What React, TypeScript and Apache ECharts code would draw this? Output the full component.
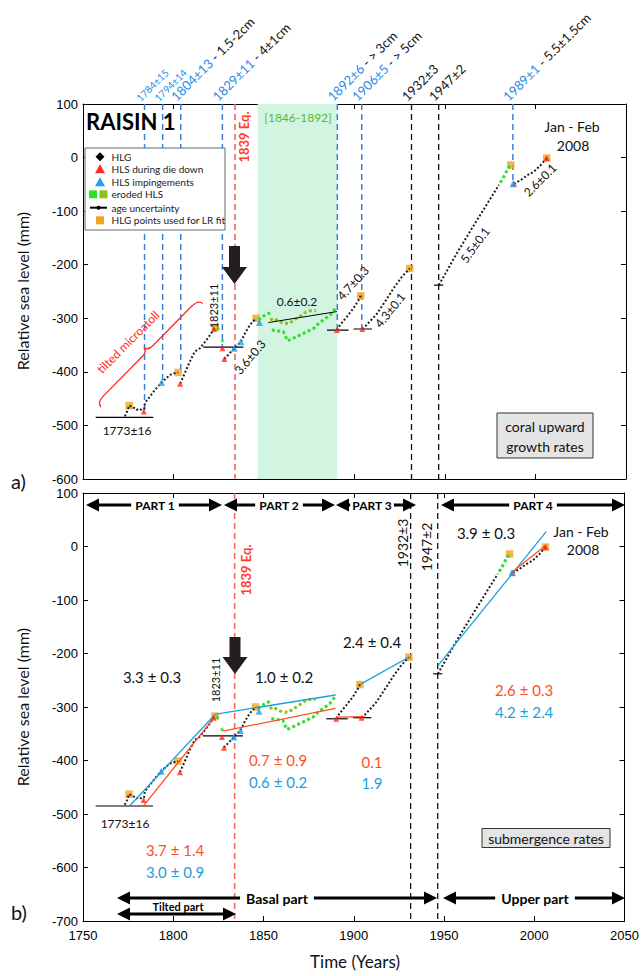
import React, { useEffect, useRef } from "react";
import * as echarts from "echarts";

// ---------- axes ----------
const yearRange = [1750, 2050];
const yearStep = 50;
const topRange = [-600, 100];
const botRange = [-700, 100];
const mmStep = 100;

// ---------- HLG data (black dotted) ----------
const segA = [[1773.1, -483], [1774.4, -474], [1775.5, -463], [1777.7, -466], [1779.5, -471], [1781.4, -469], [1783.6, -474]];
const segB = [[1783.8, -470], [1784.2, -458], [1787, -446], [1789.7, -434], [1793.4, -420], [1796.2, -411], [1799, -404], [1802.6, -401]];
const segC = [[1803.7, -422], [1806.3, -402], [1809, -381], [1811.8, -362], [1814.6, -356], [1817.4, -344], [1820.2, -331], [1822.4, -320], [1823.1, -317]];
const segD = [[1828.1, -376], [1830.3, -368], [1833.6, -356], [1837.2, -344], [1839.5, -328], [1842.3, -312], [1845.6, -300]];
const segE = [[1890.3, -322], [1892.1, -312], [1895.8, -297], [1899.5, -281], [1902.3, -266], [1903.4, -258]];
const segF = [[1904.3, -320], [1906.9, -312], [1912.5, -291], [1918, -263], [1921.6, -244], [1926.3, -222], [1930.5, -207]];
const segG = [[1946.6, -238], [1949.3, -222], [1954.9, -188], [1960.4, -157], [1966, -126], [1970.6, -101], [1975.2, -76], [1979.8, -51]];
const segH = [[1988.1, -49], [1991.8, -42], [1995.5, -33], [1999.2, -26], [2002.9, -14], [2006.2, -1]];
const hlgSegments = [segA, segB, segC, segD, segE, segF, segG, segH];

// ---------- eroded HLS ----------
const greenC = [[1823.8, -318], [1825.5, -322]];
const greenUpper = [[1846.9, -303], [1848.8, -298], [1851.5, -292], [1854.3, -289]];
const greenLower = [[1854.3, -322], [1857.1, -323], [1860.7, -325], [1863, -342], [1866.3, -337], [1870, -331], [1873.7, -325], [1877.4, -319], [1880.1, -310], [1882.9, -303], [1886.6, -294], [1890.3, -278]];
const greenG = [[1980.5, -47], [1983, -33], [1984.4, -23], [1986.3, -14]];
const greenSegments = [greenC, greenUpper, greenLower, greenG];
const greenDots = [[1827, -342]];
const oliveSegment = [[1853.4, -303], [1855.6, -300], [1858, -306], [1860.7, -309], [1863.5, -310], [1866.3, -304], [1870, -296], [1872.8, -289], [1875.5, -286], [1878.8, -286]];

// ---------- markers ----------
const orangePts = [[1775.5, -463], [1802.6, -401], [1823.1, -317], [1845.6, -300], [1903.4, -258], [1930.5, -207], [1986.3, -14], [2006.2, -1]];
const redTri = [[1783.6, -474], [1803.7, -422], [1822.4, -320], [1827, -356], [1828.1, -376], [1890.3, -322], [1904.3, -320], [1988.1, -49], [2006.2, -1]];
const blueTri = [[1793.4, -420], [1833.6, -356], [1837.2, -344], [1847.5, -308], [1987.6, -49]];

// age uncertainty bars: [from, to, level]
const ageBars = [[1757, 1788.8, -485], [1816.4, 1838.6, -354], [1884.8, 1896.7, -322], [1899.5, 1909.7, -320], [1944, 1949, -238]];

// ---------- events ----------
const blueEvents = [[1784, -474], [1794, -420], [1804, -402], [1827, -356], [1890.5, -322], [1904, -320], [1987.5, -49]];
const quakeYear = 1834;
const blackEvents = [1931.5, 1946.5];
const bandYears = [1846.5, 1890.5];

// ---------- fits ----------
const growthFit = [[1852.4, -308], [1890.3, -287.5]];
const blueFits = [
  [[1775.9, -484.5], [1822.9, -315]],
  [[1822.9, -313.6], [1889.9, -277.6]],
  [[1903.6, -257.6], [1930.9, -206]],
  [[1946.6, -222.8], [2006.6, 27.7]],
];
const redFits = [
  [[1783.6, -484.5], [1822.9, -319]],
  [[1827.5, -345], [1889.9, -302.5]],
  [[1890.3, -319], [1906, -318]],
  [[1987.2, -49], [2006.6, 2.8]],
];

// ---------- labels ----------
const topLabels: [number, string, string, number][] = [
  [1784, "1784±15", "", 10],
  [1794, "1794±14", "", 10],
  [1804, "1804±13", " - 1.5-2cm", 13],
  [1827, "1829±11", " - 4±1cm", 13],
  [1890.5, "1892±6", " - > 3cm", 13],
  [1904, "1906±5", " - > 5cm", 13],
  [1931.5, "", "1932±3", 13],
  [1946.5, "", "1947±2", 13],
  [1987.5, "1989±1", " - 5.5±1.5cm", 13],
];

const FT = "Lato, 'Open Sans', sans-serif";
const FA = "'Liberation Sans', Arial, sans-serif";
const BLK = "#231f20";
const RED = "#ff2b1c";
const BLUE = "#1e9ff2";
const GREEN = "#2fe02a";
const OLIVE = "#8cc21f";
const ORANGE = "#f6a21d";
const RATE_RED = "#ff4e1f";
const RATE_BLUE = "#1aa0dc";
const LBL_BLUE = "#2a8be8";

function axisX(grid: number, pos: string, labels: boolean) {
  return {
    type: "value", gridIndex: grid, position: pos,
    min: yearRange[0], max: yearRange[1], interval: yearStep,
    axisLine: { show: true, onZero: false, lineStyle: { color: "#000", width: 1 } },
    axisTick: { show: true, inside: true, length: 5, lineStyle: { color: "#000" } },
    splitLine: { show: false },
    axisLabel: { show: labels, fontSize: 13, color: "#000", fontFamily: FA, margin: 8, formatter: (v: number) => String(v) },
  };
}
function axisY(grid: number, pos: string, labels: boolean, range: number[]) {
  return {
    type: "value", gridIndex: grid, position: pos,
    min: range[0], max: range[1], interval: mmStep,
    axisLine: { show: true, onZero: false, lineStyle: { color: "#000", width: 1 } },
    axisTick: { show: true, inside: true, length: 5, lineStyle: { color: "#000" } },
    splitLine: { show: false },
    axisLabel: { show: labels, fontSize: 13, color: "#000", fontFamily: FA, margin: 5, formatter: (v: number) => String(v) },
  };
}

function panelSeries(p: number) {
  const idx = p * 2;
  const yr = p === 0 ? topRange : botRange;
  const base = { xAxisIndex: idx, yAxisIndex: idx, silent: true };
  const line = (data: number[][], color: string, width: number, type: any, z: number) => ({
    ...base, type: "line", data, symbol: "none", showSymbol: false, z,
    lineStyle: { color, width, type, cap: "butt" },
  });
  const s: any[] = [];
  if (p === 0) {
    s.push({
      ...base, type: "line", data: [[bandYears[0], yr[0]]], symbol: "none", lineStyle: { opacity: 0 }, z: 0,
      markArea: { silent: true, itemStyle: { color: "#d2f5e2" }, data: [[{ xAxis: bandYears[0] }, { xAxis: bandYears[1] }]] },
    });
    blueEvents.forEach(([x, yb]) => s.push(line([[x, yr[1]], [x, yb]], "#3b80d8", 1.5, [6, 4], 1)));
  }
  s.push(line([[quakeYear, yr[1]], [quakeYear, yr[0]]], "#f4675a", 1.6, [6, 4], 1));
  blackEvents.forEach((x) => s.push(line([[x, yr[1]], [x, yr[0]]], "#111", 1.3, [6, 4], 1)));
  ageBars.forEach(([a, b, y]) => s.push(line([[a, y], [b, y]], "#000", 1.2, "solid", 2)));
  s.push({ ...base, type: "scatter", data: orangePts, symbol: "rect", symbolSize: 7.5, itemStyle: { color: ORANGE }, z: 2 });
  hlgSegments.forEach((seg) => s.push(line(seg, BLK, 2, [2, 2], 3)));
  greenSegments.forEach((seg) => s.push(line(seg, GREEN, 3, [3, 2.5], 3)));
  s.push(line(oliveSegment, OLIVE, 3, [3, 2.5], 3));
  s.push({ ...base, type: "scatter", data: greenDots, symbol: "circle", symbolSize: 3.5, itemStyle: { color: GREEN }, z: 3 });
  if (p === 0) s.push(line(growthFit, "#000", 1, "solid", 4));
  if (p === 1) {
    blueFits.forEach((f) => s.push(line(f, RATE_BLUE, 1.3, "solid", 4)));
    redFits.forEach((f) => s.push(line(f, RATE_RED, 1.3, "solid", 4)));
  }
  s.push({ ...base, type: "scatter", data: redTri, symbol: "triangle", symbolSize: 6, itemStyle: { color: RED }, z: 5 });
  s.push({ ...base, type: "scatter", data: blueTri, symbol: "triangle", symbolSize: 7, itemStyle: { color: BLUE }, z: 5 });
  return s;
}

function txt(x: number, y: number, text: string, o: any = {}) {
  const font = `${o.weight || "normal"} ${o.size || 12}px ${o.family || FT}`;
  return {
    type: "text", x, y, rotation: o.rot || 0, z: 100,
    style: {
      text, fill: o.color || "#111", font,
      align: o.align || "center", textAlign: o.align || "center",
      verticalAlign: o.va || "middle", textVerticalAlign: o.va || "middle",
      lineHeight: o.lh, backgroundColor: o.bg, padding: o.pad,
    },
  };
}
function poly(points: number[][], fill: string) {
  return { type: "polygon", z: 100, shape: { points }, style: { fill } };
}
function seg(x1: number, y1: number, x2: number, y2: number, w: number, color = "#000") {
  return { type: "line", z: 99, shape: { x1, y1, x2, y2 }, style: { stroke: color, lineWidth: w } };
}
function hArrow(x1: number, x2: number, y: number, left: boolean, right: boolean) {
  const L = 13, h = 6.5;
  const els: any[] = [seg(left ? x1 + L - 1 : x1, y, right ? x2 - L + 1 : x2, y, 3)];
  if (left) els.push(poly([[x1, y], [x1 + L, y - h], [x1 + L, y + h]], "#000"));
  if (right) els.push(poly([[x2, y], [x2 - L, y - h], [x2 - L, y + h]], "#000"));
  return els;
}
function downArrow(cx: number, y0: number, y1: number, tip: number) {
  return poly([[cx - 5.5, y0], [cx + 5.5, y0], [cx + 5.5, y1], [cx + 12.5, y1], [cx, tip], [cx - 12.5, y1], [cx - 5.5, y1]], BLK);
}

function buildGraphics(chart: any) {
  const g: any[] = [];
  // top rotated event labels
  topLabels.forEach(([year, blue, black, size]) => {
    const [lx, ly] = chart.convertToPixel({ xAxisIndex: 0, yAxisIndex: 0 }, [year, topRange[1]]);
    const f = `${size}px ${FT}`;
    g.push({
      type: "text", x: lx - 3, y: ly - 1, rotation: Math.PI / 4, z: 100,
      style: {
        text: (blue ? `{b|${blue}}` : "") + (black ? `{k|${black}}` : ""),
        font: f, align: "left", textAlign: "left", verticalAlign: "bottom", textVerticalAlign: "bottom",
        rich: { b: { fill: LBL_BLUE, font: f }, k: { fill: "#111", font: f } },
      },
    });
  });

  // ---- top panel annotations ----
  g.push(txt(86, 121, "RAISIN 1", { size: 22, weight: "bold", align: "left", color: "#000" }));
  g.push(txt(298, 117, "[1846-1892]", { size: 12, color: "#5cb82e" }));
  g.push(txt(244, 137, "1839 Eq.", { size: 13, weight: "bold", color: "#ff3d22", rot: Math.PI / 2 }));
  g.push(txt(213, 306, "1823±11", { size: 11, rot: Math.PI / 2 }));
  g.push(txt(127, 430, "1773±16", { size: 12 }));
  g.push(txt(297, 301, "0.6±0.2", { size: 12 }));
  const d = Math.PI / 180;
  g.push(txt(250, 357, "3.6±0.3", { size: 12, rot: 50 * d }));
  g.push(txt(353, 283, "4.7±0.3", { size: 12, rot: 48 * d }));
  g.push(txt(390, 310, "4.3±0.1", { size: 12, rot: 51 * d }));
  g.push(txt(475, 245, "5.5±0.1", { size: 12, rot: 54 * d }));
  g.push(txt(540, 180, "2.6±0.1", { size: 12, rot: 45 * d }));
  g.push(txt(572, 126, "Jan - Feb", { size: 14 }));
  g.push(txt(573, 145, "2008", { size: 14 }));
  g.push(txt(128, 342, "tilted microatoll", { size: 12, color: "#ff2a2a", rot: 45 * d }));
  g.push({ type: "brace", x: 101, y: 407, rotation: 45.5 * d, z: 100, style: { stroke: "#ff2a2a", fill: "none", lineWidth: 1.3 } });
  g.push(downArrow(234.5, 246, 267, 284));
  // coral box
  g.push({ type: "rect", z: 99, shape: { x: 497, y: 413, width: 96, height: 45 }, style: { fill: "#e4e4e4", stroke: "#333", lineWidth: 1 } });
  g.push(txt(545, 436, "coral upward\ngrowth rates", { size: 14, lh: 20 }));
  // legend
  g.push({ type: "rect", z: 98, shape: { x: 85, y: 148, width: 140, height: 82 }, style: { fill: "#fff", stroke: "#666", lineWidth: 1 } });
  const ly = [156.7, 169.3, 182.3, 194.3, 207.7, 220.3];
  const lt = ["HLG", "HLS during die down", "HLS impingements", "eroded HLS", "age uncertainty", "HLG points used for LR fit"];
  lt.forEach((t, i) => g.push(txt(111.5, ly[i], t, { size: 10, align: "left", color: "#222" })));
  g.push(poly([[100, ly[0] - 4.5], [104.5, ly[0]], [100, ly[0] + 4.5], [95.5, ly[0]]], "#000"));
  g.push(poly([[100, ly[1] - 5], [105, ly[1] + 4], [95, ly[1] + 4]], RED));
  g.push(poly([[100, ly[2] - 5], [105, ly[2] + 4], [95, ly[2] + 4]], BLUE));
  g.push({ type: "rect", z: 100, shape: { x: 89, y: ly[3] - 4, width: 8, height: 8 }, style: { fill: GREEN } });
  g.push({ type: "rect", z: 100, shape: { x: 99.5, y: ly[3] - 4, width: 8, height: 8 }, style: { fill: OLIVE } });
  g.push(seg(90, ly[4], 107, ly[4], 2));
  g.push({ type: "circle", z: 100, shape: { cx: 98.5, cy: ly[4], r: 2 }, style: { fill: "#000" } });
  g.push({ type: "rect", z: 100, shape: { x: 96, y: ly[5] - 4, width: 8, height: 8 }, style: { fill: ORANGE } });

  // ---- bottom panel annotations ----
  hArrow(86, 222, 505, true, true).forEach((e) => g.push(e));
  hArrow(224, 335, 505, true, true).forEach((e) => g.push(e));
  hArrow(336, 416, 505, true, true).forEach((e) => g.push(e));
  hArrow(441, 625, 505, true, true).forEach((e) => g.push(e));
  const partStyle = { size: 12, weight: "bold", color: "#000", bg: "#fff", pad: [0, 4] };
  g.push(txt(155, 505, "PART 1", partStyle));
  g.push(txt(279, 505, "PART 2", partStyle));
  g.push(txt(372, 505, "PART 3", { ...partStyle, pad: [0, 2] }));
  g.push(txt(533, 505, "PART 4", partStyle));
  hArrow(117, 437, 898, true, true).forEach((e) => g.push(e));
  hArrow(443, 625, 898, true, true).forEach((e) => g.push(e));
  hArrow(117, 236, 914, true, true).forEach((e) => g.push(e));
  g.push(txt(277, 898, "Basal part", { size: 14, weight: "bold", color: "#000", bg: "#fff", pad: [0, 6] }));
  g.push(txt(535, 898, "Upper part", { size: 14, weight: "bold", color: "#000", bg: "#fff", pad: [0, 6] }));
  g.push(txt(178, 906, "Tilted part", { size: 11, weight: "bold", color: "#000" }));

  g.push(txt(152, 677, "3.3 ± 0.3", { size: 15 }));
  g.push(txt(284, 677, "1.0 ± 0.2", { size: 15 }));
  g.push(txt(215, 680, "1823±11", { size: 11, rot: Math.PI / 2 }));
  g.push(txt(125, 823, "1773±16", { size: 12 }));
  g.push(txt(278, 760, "0.7 ± 0.9", { size: 15, color: RATE_RED }));
  g.push(txt(278, 782, "0.6 ± 0.2", { size: 15, color: RATE_BLUE }));
  g.push(txt(175, 850, "3.7 ± 1.4", { size: 15, color: RATE_RED }));
  g.push(txt(175, 872, "3.0 ± 0.9", { size: 15, color: RATE_BLUE }));
  g.push(txt(372, 642, "2.4 ± 0.4", { size: 15 }));
  g.push(txt(372, 762, "0.1", { size: 15, color: RATE_RED }));
  g.push(txt(372, 783, "1.9", { size: 15, color: RATE_BLUE }));
  g.push(txt(486, 533, "3.9 ± 0.3", { size: 15 }));
  g.push(txt(581, 531, "Jan - Feb", { size: 14 }));
  g.push(txt(583, 549, "2008", { size: 14 }));
  g.push(txt(402, 543, "1932±3", { size: 14, rot: Math.PI / 2 }));
  g.push(txt(426, 547, "1947±2", { size: 14, rot: Math.PI / 2 }));
  g.push(txt(524, 690, "2.6 ± 0.3", { size: 15, color: RATE_RED }));
  g.push(txt(524, 712, "4.2 ± 2.4", { size: 15, color: RATE_BLUE }));
  g.push(txt(246, 570, "1839 Eq.", { size: 13, weight: "bold", color: "#ff3d22", rot: Math.PI / 2 }));
  g.push(downArrow(235, 637, 657, 674));
  g.push({ type: "rect", z: 99, shape: { x: 482, y: 828.5, width: 128, height: 19 }, style: { fill: "#e4e4e4", stroke: "#333", lineWidth: 1 } });
  g.push(txt(546, 838.5, "submergence rates", { size: 14 }));

  // ---- frame texts ----
  g.push(txt(22, 291, "Relative sea level (mm)", { size: 16, rot: Math.PI / 2, color: "#111" }));
  g.push(txt(22, 707, "Relative sea level (mm)", { size: 16, rot: Math.PI / 2, color: "#111" }));
  g.push(txt(355, 961, "Time (Years)", { size: 17, color: "#111" }));
  g.push(txt(11, 481, "a)", { size: 20, align: "left", color: "#111" }));
  g.push(txt(11, 912, "b)", { size: 20, align: "left", color: "#111" }));
  return g;
}

let braceRegistered = false;
function registerBrace() {
  if (braceRegistered) return;
  braceRegistered = true;
  const dPath = "M0,0 C0,-4 3,-6 10,-6 L65,-6 C70,-6 72,-7.5 72.5,-11 C73,-7.5 75,-6 80,-6 L135,-6 C142,-6 145,-4 145,0";
  echarts.graphic.registerShape("brace", (echarts.graphic as any).extendPath(dPath, {}));
}

export default function App() {
  const ref = useRef<HTMLDivElement>(null);
  useEffect(() => {
    document.body.style.margin = "0";
    registerBrace();
    const chart = echarts.init(ref.current!, null, { renderer: "svg" });
    chart.setOption({
      animation: false,
      backgroundColor: "#fff",
      grid: [
        { left: 83, top: 104, width: 543, height: 375 },
        { left: 83, top: 493, width: 543, height: 428 },
      ],
      xAxis: [axisX(0, "bottom", false), axisX(0, "top", false), axisX(1, "bottom", true), axisX(1, "top", false)],
      yAxis: [axisY(0, "left", true, topRange), axisY(0, "right", false, topRange), axisY(1, "left", true, botRange), axisY(1, "right", false, botRange)],
      series: [...panelSeries(0), ...panelSeries(1)],
    });
    chart.setOption({ graphic: buildGraphics(chart) });
    return () => chart.dispose();
  }, []);
  return <div ref={ref} style={{ width: 642, height: 976 }} />;
}
